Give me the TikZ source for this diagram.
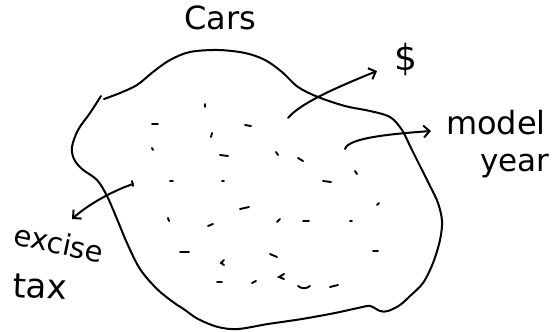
\documentclass[tikz,border=0pt]{standalone}
\usepackage{fontspec}
\setmainfont{DejaVu Sans}
\usetikzlibrary{arrows.meta}
\tikzset{
  % hand drawn pen strokes
  outline/.style = {line width=2pt, line join=round, line cap=round},
  pointer/.style = {line width=2pt, line cap=round,
                    -{Straight Barb[length=6pt,width=12pt,line width=2pt]}},
  speck/.style   = {line width=1.9pt, line cap=round},
  scrawl/.style  = {inner sep=0pt, font=\fontsize{#1}{#1}\selectfont},
  scrawl/.default = 28,
}

\begin{document}
\begin{tikzpicture}[x=1pt,y=-1pt]
\useasboundingbox (0,0) rectangle (555,332);
% the set of cars
\draw[outline] plot[smooth, tension=0.55] coordinates {
  (104,99) (120,93) (137,85) (153,72) (170,60) (190,52) (218,50) (245,53)
  (265,60) (282,72) (298,87) (318,97) (345,106) (370,111) (390,117) (402,130)
  (411,148) (420,166) (430,186) (438,203) (442,221) (440,240) (433,263)
  (423,283) (410,296) (400,305) (388,311) (380,311) (370,306) (358,308)
  (335,313) (302,319) (268,324) (238,329) (218,327) (198,319) (185,310)
  (173,302) (157,289) (140,269) (127,243) (117,219) (107,196) (97,180)
  (82,169) (74,159) (72,147) (78,130) (90,113) (101,96)};
% the cars themselves
\foreach \xa/\ya/\xb/\yb in {152/124/158/124, 152/148/153/150, 205/104/205/107,
    245/125/251/126, 212/133/211/137, 220/155/228/156, 276/152/278/155,
    298/158/303/161, 170/181/173/181, 222/181/224/181, 323/181/331/182,
    355/171/357/174, 240/209/249/207, 208/226/213/224, 277/222/280/219,
    303/221/309/221, 350/221/352/221, 377/205/379/203, 180/252/189/252,
    270/254/277/257, 217/282/222/282, 252/283/256/281, 330/287/338/285,
    373/251/378/251, 132/181/133/186, 168/218/169/221}
  {\draw[speck] (\xa,\ya) -- (\xb,\yb);}
\draw[speck] (224,260) -- (221,263) -- (224,265);
\draw[speck] (284,274) -- (279,277) -- (284,279);
\draw[speck] (298,286) .. controls (302,289) and (306,289) .. (310,286);
% labels
\node[scrawl=32, anchor=base west] (cars) at (184,30) {Cars};
\node[scrawl=36, anchor=base west] (price) at (394,70) {\$};
\node[scrawl=32, anchor=base west] (model) at (446,134) {model};
\node[scrawl=31, anchor=base west] (year) at (480,171) {year};
\node[scrawl=29, anchor=base west, rotate=-12] (excise) at (12,244) {excise};
\node[scrawl=34, anchor=base west, rotate=-3] (tax) at (12,297) {tax};
% attribute maps
\coordinate (price-from) at (288,118);
\coordinate (price-to) at (377,71);
\coordinate (model-from) at (345,149);
\coordinate (model-to) at (431,131);
\coordinate (excise-from) at (133,184);
\coordinate (excise-to) at (72,219);
\draw[pointer] (price-from) .. controls (300,104) and (330,90) .. (price-to);
\draw[pointer] (model-from) .. controls (348,138) and (390,134) .. (model-to);
\draw[pointer] (excise-from) .. controls (115,190) and (90,203) .. (excise-to);
\end{tikzpicture}
\end{document}
